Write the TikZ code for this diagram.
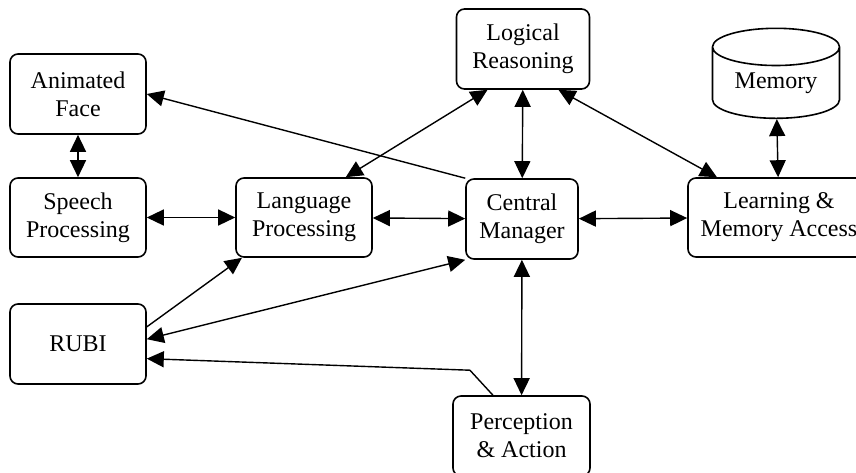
\documentclass[tikz,border=0pt]{standalone}
\usepackage{fontspec}
\setmainfont{Liberation Serif}
\usetikzlibrary{shapes,arrows.meta,positioning}

\begin{document}
\begin{tikzpicture}[
        x=0.5pt, y=-0.5pt,
        font=\fontsize{12}{14}\selectfont,
        box/.style = {rectangle, draw=black, line width=0.8pt, rounded corners=4pt, align=center, inner sep=0pt},
        link/.style = {line width=0.7pt, -{Triangle[length=8.5pt,width=8pt]}},
        both/.style = {line width=0.7pt, {Triangle[length=8.5pt,width=8pt]}-{Triangle[length=8.5pt,width=8pt]}}
    ]
    \useasboundingbox (0,0) rectangle (856,472);

    %nodes
    \node [box, minimum width=68pt, minimum height=40pt] (face) at (78,94) {Animated\\Face};
    \node [box, minimum width=68pt, minimum height=39.5pt] (speech) at (78,217.5) {Speech\\Processing};
    \node [box, minimum width=68pt, minimum height=39.5pt] (lang) at (304,217.5) {Language\\Processing};
    \node [box, minimum width=66.5pt, minimum height=40pt] (logic) at (523,49) {Logical\\Reasoning};
    \node [box, minimum width=56pt, minimum height=40pt] (central) at (522,219) {Central\\Manager};
    \node [box, minimum width=91pt, minimum height=39.5pt] (learn) at (779,217.5) {Learning \&\\Memory Access};
    \node [box, minimum width=68pt, minimum height=40pt] (rubi) at (78,344) {RUBI};
    \node [box, minimum width=68.5pt, minimum height=40pt] (perc) at (521.5,436) {Perception\\\& Action};
    \node [cylinder, shape border rotate=90, aspect=0.45, draw=black, line width=0.8pt,
           minimum width=63.5pt, minimum height=45pt, inner sep=0pt] (memory) at (776,83) {Memory};

    % arrows
    \path (face) edge[both] (speech);
    \path (speech) edge[both] (lang);
    \path (lang) edge[both] (central);
    \path (central) edge[both] (learn);
    \path (logic) edge[both] (central);
    \path (memory) edge[both] (learn);
    \path (central) edge[both] (perc);
    \path (logic.-131) edge[both] (lang.44);
    \path (logic.-49.5) edge[both] (learn.147.5);
    \path (central.north west) edge[link] (face.east);
    \path (rubi.14) edge[link] (lang.213.6);
    \path (rubi.4) edge[both] (central.south west);
    \draw[link] (perc.125.5) -- ++(-23,-25) -- (rubi.-12.4);

\end{tikzpicture}
\end{document}
